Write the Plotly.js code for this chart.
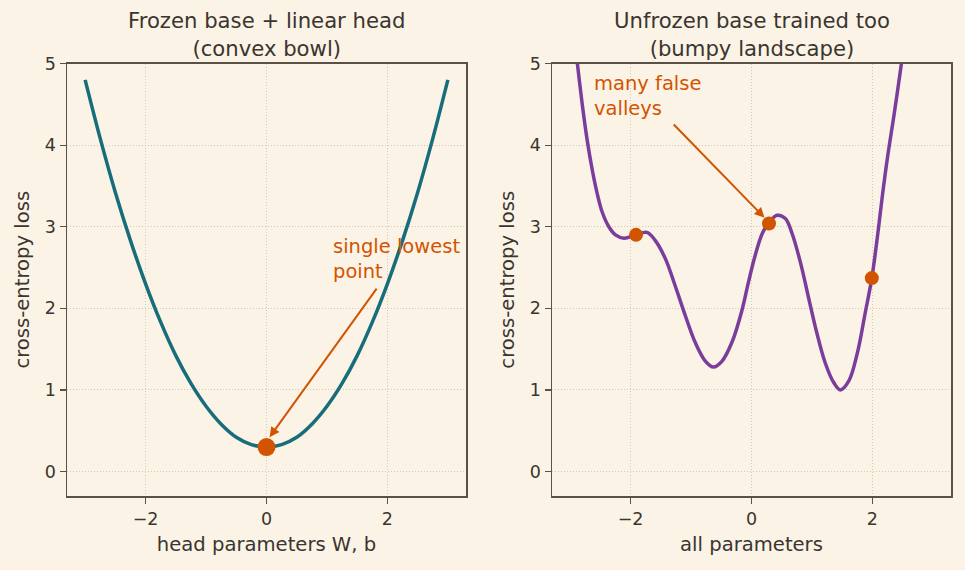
<!DOCTYPE html>
<html>
<head>
<meta charset="utf-8">
<script src="https://cdn.plot.ly/plotly-3.0.1.min.js"></script>
<style>
  html, body { margin: 0; padding: 0; background: #faf3e6; }
  #chart { width: 965px; height: 570px; }
</style>
</head>
<body>
<div id="chart"></div>
<script>
// Left panel: loss of a linear head on a frozen base (a convex bowl)
const headW = [-3, -2.75, -2.5, -2.25, -2, -1.75, -1.5, -1.25, -1, -0.75, -0.5, -0.25, 0,
  0.25, 0.5, 0.75, 1, 1.25, 1.5, 1.75, 2, 2.25, 2.5, 2.75, 3];
const headLoss = [4.8, 4.08, 3.42, 2.83, 2.3, 1.83, 1.42, 1.08, 0.8, 0.58, 0.42, 0.33, 0.3,
  0.33, 0.42, 0.58, 0.8, 1.08, 1.42, 1.83, 2.3, 2.83, 3.42, 4.08, 4.8];
const bowlMinX = [0];
const bowlMinY = [0.3];

// Right panel: loss when the whole network is trained (bumpy landscape)
const allParams = [-2.95, -2.88, -2.8, -2.72, -2.63, -2.55, -2.47, -2.36, -2.25, -2.11, -1.91,
  -1.73, -1.59, -1.42, -1.26, -1.09, -0.93, -0.76, -0.63, -0.49, -0.32, -0.16, -0.05, 0.05,
  0.18, 0.29, 0.42, 0.56, 0.67, 0.81, 0.95, 1.08, 1.22, 1.36, 1.47, 1.61, 1.75, 1.88, 1.99,
  2.08, 2.16, 2.25, 2.36, 2.48, 2.56];
const bumpyLoss = [5.48, 5.0, 4.5, 4.07, 3.68, 3.4, 3.18, 3.0, 2.9, 2.86, 2.9,
  2.93, 2.83, 2.6, 2.27, 1.9, 1.58, 1.35, 1.28, 1.35, 1.59, 1.97, 2.32, 2.62,
  2.92, 3.05, 3.14, 3.1, 2.92, 2.56, 2.11, 1.7, 1.33, 1.09, 1.0, 1.11, 1.45, 1.94, 2.37,
  2.86, 3.35, 3.85, 4.38, 5.0, 5.42];
const stuckX = [-1.91, 0.29, 1.99];
const stuckY = [2.9, 3.04, 2.37];

const xTicks = [-2, 0, 2];
const yTicks = [0, 1, 2, 3, 4, 5];

const BG = '#faf3e6';
const INK = '#3b3530';
const FRAME = '#5b5045';
const GRID = '#cdc3b1';
const TEAL = '#176d7a';
const PURPLE = '#7a3d9c';
const ORANGE = '#d35400';
const FONT = 'DejaVu Sans, Liberation Sans, sans-serif';

const W = 965, H = 570;
const xdomL = [67 / W, 466 / W];
const xdomR = [552 / W, 951 / W];
const ydom = [1 - 496 / H, 1 - 63.5 / H];

function xAxis(domain, anchor, label) {
  return {
    domain: domain, anchor: anchor, range: [-3.3, 3.3],
    tickmode: 'array', tickvals: xTicks,
    ticks: 'outside', ticklen: 6, tickwidth: 1.2, tickcolor: FRAME,
    showline: true, mirror: true, linecolor: FRAME, linewidth: 1.5,
    showgrid: true, gridcolor: GRID, griddash: '1px,2px', gridwidth: 0.9,
    zeroline: false,
    tickfont: { family: FONT, size: 17.5, color: INK },
    title: { text: label, font: { family: FONT, size: 19.6, color: INK }, standoff: 10 }
  };
}
function yAxis(anchor) {
  return {
    domain: ydom, anchor: anchor, range: [-0.3, 5],
    tickmode: 'array', tickvals: yTicks,
    ticks: 'outside', ticklen: 6, tickwidth: 1.2, tickcolor: FRAME,
    showline: true, mirror: true, linecolor: FRAME, linewidth: 1.5,
    showgrid: true, gridcolor: GRID, griddash: '1px,2px', gridwidth: 0.9,
    zeroline: false,
    tickfont: { family: FONT, size: 17.5, color: INK },
    title: { text: 'cross-entropy loss', font: { family: FONT, size: 19.6, color: INK }, standoff: 10 }
  };
}

const traces = [
  { x: headW, y: headLoss, xaxis: 'x', yaxis: 'y', mode: 'lines',
    line: { color: TEAL, width: 3.5, shape: 'spline', smoothing: 1 }, hoverinfo: 'skip' },
  { x: bowlMinX, y: bowlMinY, xaxis: 'x', yaxis: 'y', mode: 'markers',
    marker: { color: ORANGE, size: 18 }, hoverinfo: 'skip' },
  { x: allParams, y: bumpyLoss, xaxis: 'x2', yaxis: 'y2', mode: 'lines',
    line: { color: PURPLE, width: 3.5, shape: 'spline', smoothing: 1 }, hoverinfo: 'skip' },
  { x: stuckX, y: stuckY, xaxis: 'x2', yaxis: 'y2', mode: 'markers',
    marker: { color: ORANGE, size: 14 }, hoverinfo: 'skip' }
];

const titleFont = { family: FONT, size: 21.2, color: INK };
const noteFont = { family: FONT, size: 19.5, color: ORANGE };

const layout = {
  width: W, height: H,
  paper_bgcolor: BG, plot_bgcolor: BG,
  margin: { l: 0, r: 0, t: 0, b: 0 },
  showlegend: false,
  xaxis: xAxis(xdomL, 'y', 'head parameters W, b'),
  yaxis: yAxis('x'),
  xaxis2: xAxis(xdomR, 'y2', 'all parameters'),
  yaxis2: yAxis('x2'),
  annotations: [
    { xref: 'paper', yref: 'paper', x: (xdomL[0] + xdomL[1]) / 2, y: 1 - 35 / H,
      xanchor: 'center', yanchor: 'middle', showarrow: false,
      text: 'Frozen base + linear head<br>(convex bowl)', font: titleFont },
    { xref: 'paper', yref: 'paper', x: (xdomR[0] + xdomR[1]) / 2, y: 1 - 35 / H,
      xanchor: 'center', yanchor: 'middle', showarrow: false,
      text: 'Unfrozen base trained too<br>(bumpy landscape)', font: titleFont },
    { xref: 'x', yref: 'y', x: 1.07, y: 2.6, xanchor: 'left', yanchor: 'middle', align: 'left',
      showarrow: false, text: 'single lowest<br>point', font: noteFont },
    { xref: 'x', yref: 'y', x: 0.05, y: 0.42, axref: 'x', ayref: 'y', ax: 1.84, ay: 2.26,
      text: '', showarrow: true, arrowhead: 2, arrowsize: 1, arrowwidth: 2, arrowcolor: ORANGE, standoff: 0 },
    { xref: 'x2', yref: 'y2', x: -2.64, y: 4.6, xanchor: 'left', yanchor: 'middle', align: 'left',
      showarrow: false, text: 'many false<br>valleys', font: noteFont },
    { xref: 'x2', yref: 'y2', x: 0.215, y: 3.11, axref: 'x2', ayref: 'y2', ax: -1.31, ay: 4.27,
      text: '', showarrow: true, arrowhead: 2, arrowsize: 1, arrowwidth: 2, arrowcolor: ORANGE, standoff: 0 }
  ]
};

Plotly.newPlot('chart', traces, layout, { displayModeBar: false, staticPlot: true });
</script>
</body>
</html>
